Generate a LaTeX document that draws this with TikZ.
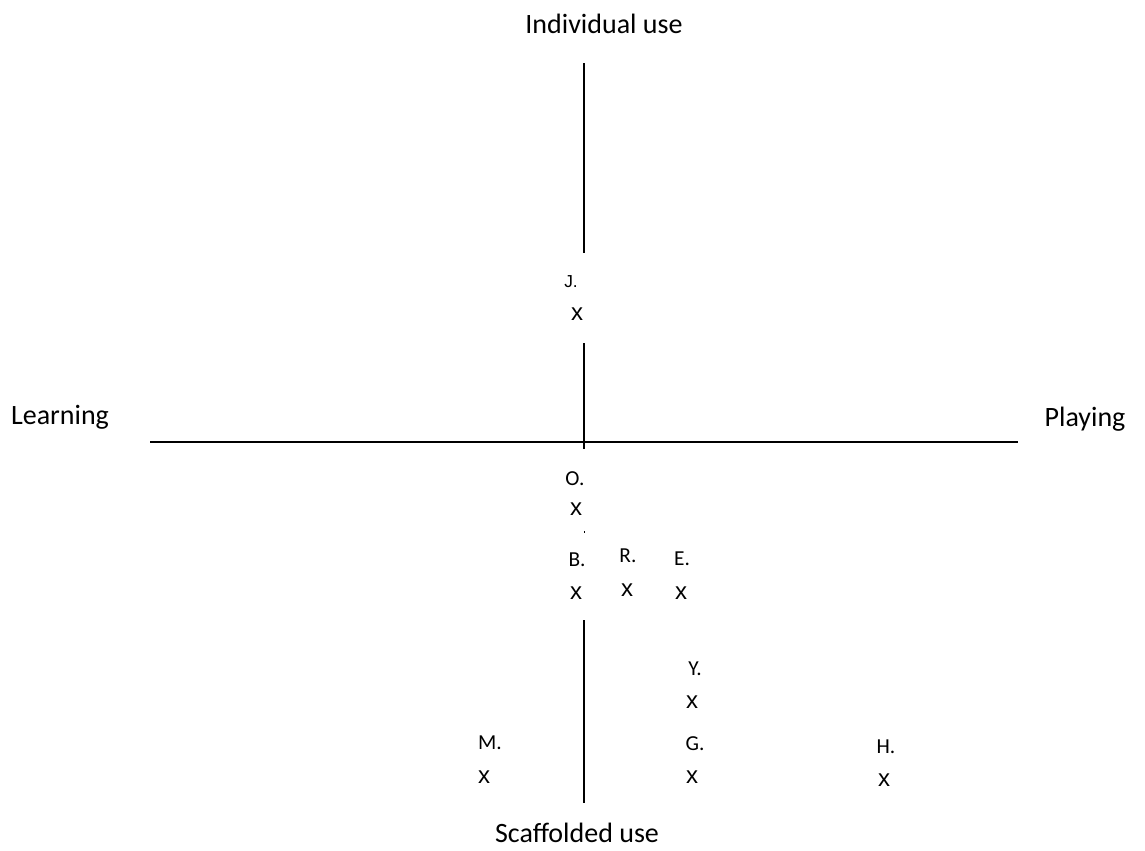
\documentclass[tikz,border=0pt]{standalone}
\usepackage{fontspec}
\setmainfont{Carlito}
\newfontfamily\arialf{Liberation Sans}
\begin{document}
\begin{tikzpicture}[x=0.75pt,y=-0.75pt,
  axis/.style={line width=1.5pt},
  axlabel/.style={font=\fontsize{21}{25}\selectfont,inner sep=0pt},
  ptlabel/.style={font=\fontsize{16}{18}\selectfont,inner sep=0pt},
  ptmark/.style={font=\arialf\fontsize{18}{20}\selectfont,inner sep=0pt}]
\useasboundingbox (0,0) rectangle (1145,850);
% axis labels
\node[axlabel] (top) at (604,24) {Individual use};
\node[axlabel] (bot) at (577,833) {Scaffolded use};
\node[axlabel] (lft) at (60,417) {Learning};
\node[axlabel] (rgt) at (1085,419) {Playing};
% axis coordinates
\coordinate (v1a) at (584,63);
\coordinate (v1b) at (584,253);
\coordinate (v2a) at (584,343);
\coordinate (v2b) at (584,449);
\coordinate (v3a) at (584,620);
\coordinate (v3b) at (584,803);
\coordinate (dota) at (584,531);
\coordinate (dotb) at (584,532.5);
\coordinate (ha) at (150,441.5);
\coordinate (hb) at (1018,441.5);
\draw[axis] (v1a) -- (v1b);
\draw[axis] (v2a) -- (v2b);
\draw[axis] (v3a) -- (v3b);
\draw[line width=0.7pt] (dota) -- (dotb);
\draw[axis] (ha) -- (hb);
% points
\node[ptlabel,font=\arialf\fontsize{13}{15}\selectfont] (Jl) at (571,282) {J.};
\node[ptmark] (Jx) at (577,314) {x};
\node[ptlabel] (Ol) at (575,479) {O.};
\node[ptmark] (Ox) at (576,509) {x};
\node[ptlabel] (Bl) at (577,560) {B.};
\node[ptmark] (Bx) at (576,593) {x};
\node[ptlabel] (Rl) at (628,556) {R.};
\node[ptmark] (Rx) at (627,590) {x};
\node[ptlabel] (El) at (682,559) {E.};
\node[ptmark] (Ex) at (681,593) {x};
\node[ptlabel] (Yl) at (695,669) {Y.};
\node[ptmark] (Yx) at (692,702) {x};
\node[ptlabel] (Gl) at (695,744) {G.};
\node[ptmark] (Gx) at (692,777) {x};
\node[ptlabel] (Ml) at (490,743) {M.};
\node[ptmark] (Mx) at (484,777) {x};
\node[ptlabel] (Hl) at (886,747) {H.};
\node[ptmark] (Hx) at (884,780) {x};
\end{tikzpicture}
\end{document}
